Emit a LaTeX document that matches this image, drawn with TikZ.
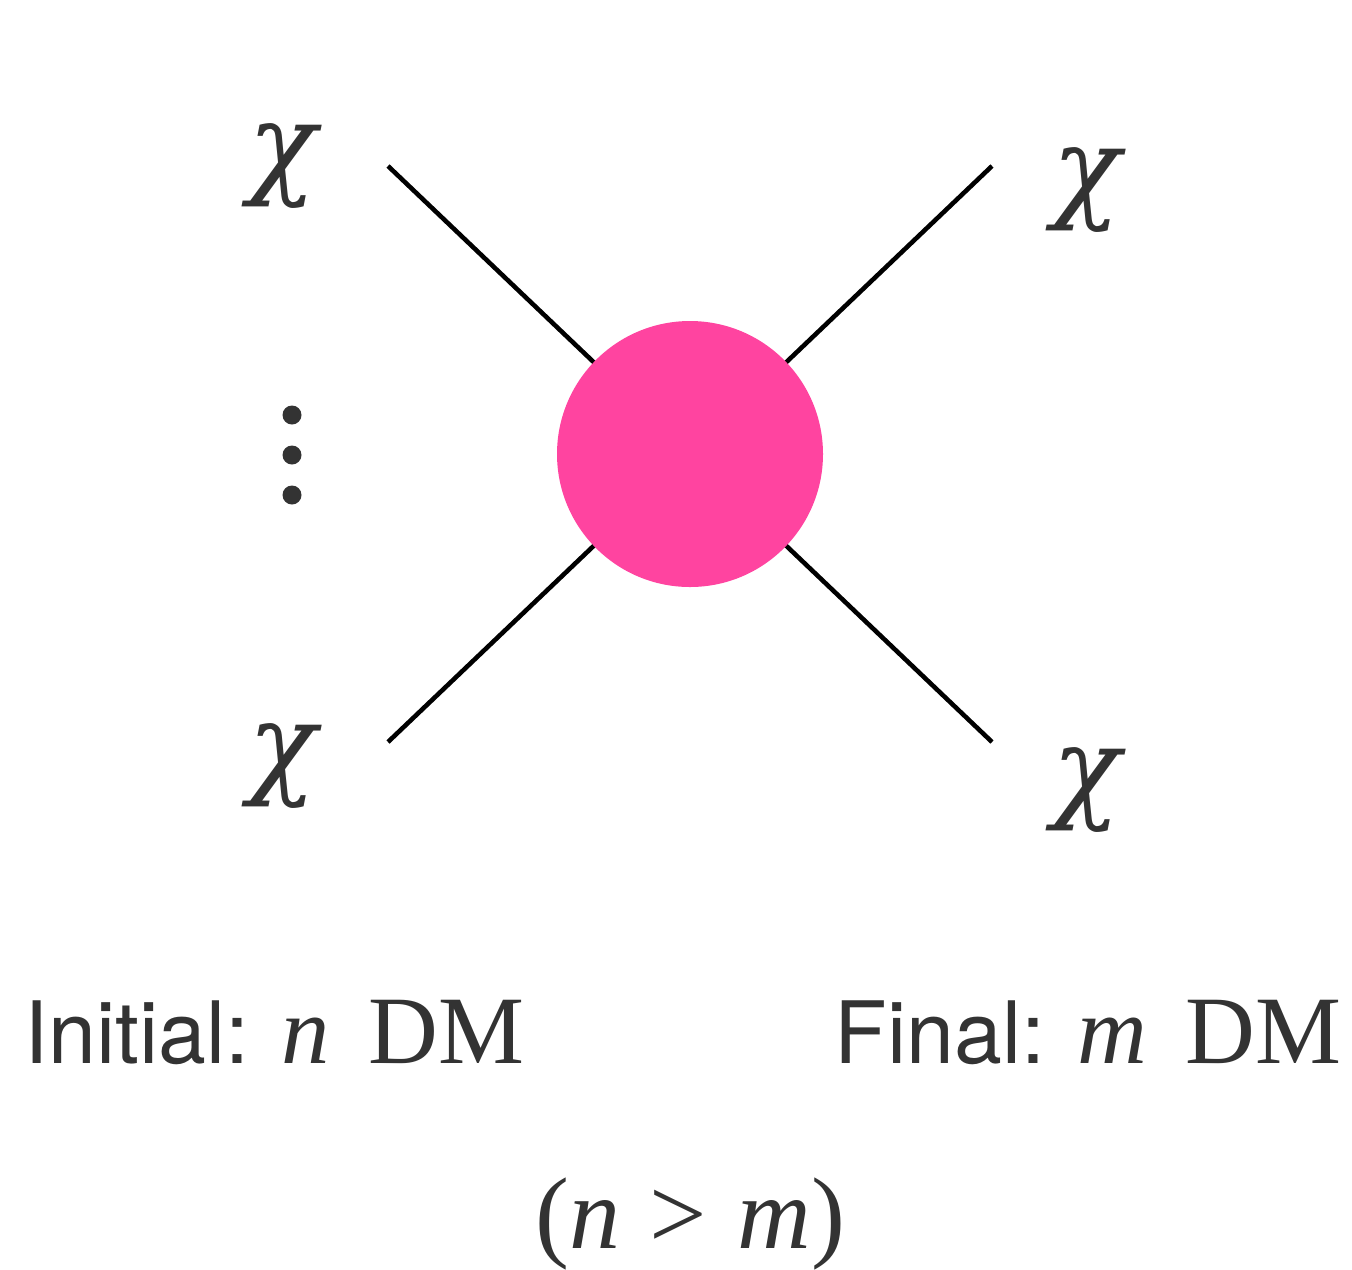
\documentclass[tikz,border=0pt]{standalone}
\usepackage{fontspec}
\usepackage{xcolor}
\setmainfont{Liberation Serif}
\setsansfont{TeX Gyre Heros}
\newfontfamily\greekfont{DejaVu Serif}
\definecolor{blobpink}{HTML}{FF44A0}
\definecolor{inkgray}{HTML}{333333}
\usepackage{tikz}

\begin{document}
\begin{tikzpicture}[x=0.02cm,y=-0.02cm,
  leg/.style={line width=2.6pt,black},
  chilabel/.style={inner sep=0pt,text=inkgray,font=\fontsize{64}{70}\selectfont\greekfont\itshape},
  caption/.style={inner sep=0pt,text=inkgray}]
  \useasboundingbox (0,0) rectangle (1352,1269);
  % external legs
  \coordinate (inA) at (388,166);
  \coordinate (inB) at (388,742);
  \coordinate (outA) at (992,166);
  \coordinate (outB) at (992,742);
  \coordinate (vertex) at (690,454);
  \foreach \p in {inA,inB,outA,outB} \draw[leg] (\p)--(vertex);
  \node[circle,fill=blobpink,minimum size=266*0.02cm,inner sep=0pt] (blob) at (vertex) {};
  % particle labels
  \node[chilabel] (chiA) at (283,166) {χ};
  \node[chilabel] (chiB) at (283,766) {χ};
  \node[chilabel] (chiC) at (1087,190) {χ};
  \node[chilabel] (chiD) at (1087,790) {χ};
  \foreach \y in {415,455,495} \fill[inkgray] (292,\y) circle (9.5);
  % captions
  \node[caption,anchor=base west] (initial) at (24,1063)
    {\fontsize{49}{60}\selectfont\sffamily Initial: \fontsize{55}{66}\selectfont\rmfamily\itshape n\upshape\hspace{0.3cm} DM};
  \node[caption,anchor=base east] (final) at (1342,1063)
    {\fontsize{49}{60}\selectfont\sffamily Final: \fontsize{55}{66}\selectfont\rmfamily\itshape m\upshape\hspace{0.3cm} DM};
  \node[caption,anchor=base] (cond) at (690,1248)
    {\fontsize{58}{66}\selectfont (\textit{n}\hspace{0.6cm}>\hspace{0.6cm}\textit{m})};
\end{tikzpicture}
\end{document}
